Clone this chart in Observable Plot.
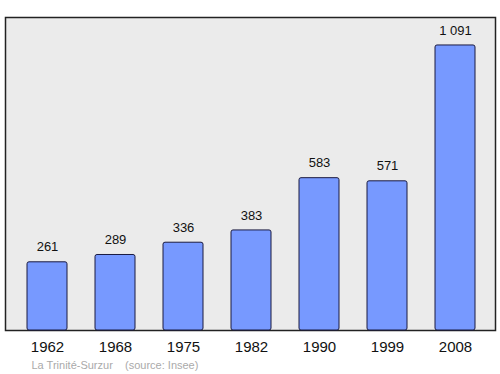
<!DOCTYPE html>
<html>
<head>
<meta charset="utf-8">
<script src="https://cdn.jsdelivr.net/npm/d3@7"></script>
<script src="https://cdn.jsdelivr.net/npm/@observablehq/plot@0.6"></script>
<style>
  html, body { margin: 0; padding: 0; background: #fff; }
  svg { display: block; }
</style>
</head>
<body>
<div id="chart"></div>
<script>
const years = ["1962", "1968", "1975", "1982", "1990", "1999", "2008"];
const population = [261, 289, 336, 383, 583, 571, 1091];
const captionText = ["La Trinité-Surzur    (source: Insee)"];

const data = years.map((y, i) => ({year: y, value: population[i]}));
const fmt = v => d3.format(",")(v).replace(/,/g, " ");

const chart = Plot.plot({
  width: 500,
  height: 374,
  marginTop: 17,
  marginBottom: 44,
  marginLeft: 26,
  marginRight: 24,
  style: {fontFamily: "'Liberation Sans', Arial, sans-serif", background: "#fff"},
  x: {domain: years, paddingInner: 0.415, paddingOuter: 0, label: null},
  y: {domain: [0, 1198], axis: null},
  marks: [
    Plot.frame({fill: "#ebebeb", stroke: "#222", strokeWidth: 1.5, insetLeft: -21, insetRight: -19}),
    Plot.barY(data, {x: "year", y: "value", fill: "#7799ff", stroke: "#1a1a40", strokeWidth: 1, rx: 2}),
    Plot.text(data, {x: "year", y: "value", text: d => fmt(d.value), dy: -15, fontSize: 13, fill: "#111"}),
    Plot.axisX({tickSize: 0, tickPadding: 11, fontSize: 15, fill: "#111"}),
    Plot.text(captionText, {frameAnchor: "bottom-left", dx: 5, dy: 35, textAnchor: "start", fontSize: 11, fill: "#aaa", lineAnchor: "middle"})
  ]
});
document.getElementById("chart").appendChild(chart);
</script>
</body>
</html>
